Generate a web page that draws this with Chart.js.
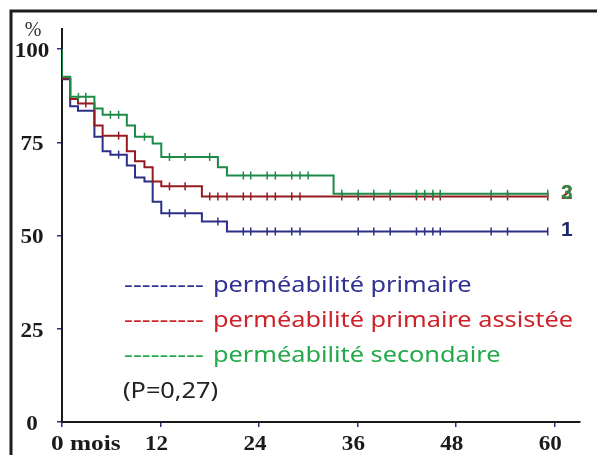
<!DOCTYPE html>
<html>
<head>
<meta charset="utf-8">
<title>Perméabilité</title>
<script src="https://cdn.jsdelivr.net/npm/chart.js@4.4.1/dist/chart.umd.min.js"></script>
<style>
  html, body { margin: 0; padding: 0; background: #fff; }
</style>
</head>
<body>
<canvas id="kmChart" width="597" height="455"></canvas>
<script>
// axes (mois / %)
const xTicks = [0, 12, 24, 36, 48, 60];
const xTickLabels = ['0 mois', '12', '24', '36', '48', '60'];
const yTicks = [0, 25, 50, 75, 100];

// courbes de Kaplan-Meier : temps des événements (mois) et survie (%)
const primaireTimes = [0, 1.0, 1.95, 3.95, 4.95, 5.9, 7.9, 8.9, 10.05, 11.05, 12.1, 17.05, 20.1];
const primaireValues = [91.9, 84.7, 83.5, 76.5, 72.6, 71.7, 68.8, 65.6, 64.5, 59.1, 56.0, 53.8, 51.1];
const primaireCensored = [6.9, 13.1, 15.0, 19.0, 22.1, 23.0, 25.0, 26.0, 28.0, 29.0, 36.1, 38.0, 40.0, 43.2, 44.2, 45.2, 46.1, 52.3, 54.3, 59.2];

const assisteeTimes = [0, 1.0, 1.95, 3.95, 4.95, 7.9, 8.9, 10.05, 11.05, 12.1, 17.05];
const assisteeValues = [92.2, 86.6, 85.4, 79.5, 76.8, 72.6, 69.9, 68.3, 64.5, 63.2, 60.5];
const assisteeCensored = [2.9, 6.9, 13.1, 15.0, 18.0, 19.0, 20.1, 22.1, 23.0, 25.0, 26.0, 28.0, 29.0, 34.1, 36.1, 38.0, 40.0, 43.2, 44.2, 45.2, 46.1, 52.3, 54.3, 59.2];

const secondaireTimes = [0, 1.0, 3.95, 4.95, 7.9, 8.9, 11.05, 12.1, 19.0, 20.1, 33.1];
const secondaireValues = [92.6, 87.2, 84.1, 82.4, 79.5, 76.5, 74.7, 71.1, 68.3, 66.1, 61.2];
const secondaireCensored = [2.0, 2.9, 5.9, 6.9, 10.05, 13.1, 15.0, 18.0, 22.1, 23.0, 25.0, 26.0, 28.0, 29.0, 30.0, 34.1, 36.1, 38.0, 40.0, 43.2, 44.2, 45.2, 46.1, 52.3, 54.3, 59.2];

const followUpEnd = 59.2;

const legendLabels = ['perméabilité primaire', 'perméabilité primaire assistée', 'perméabilité secondaire'];
const pValueLabel = '(P=0,27)';

const blueLine = '#2c2f86', redLine = '#961b1f', greenLine = '#1d8a48';
const blueText = '#2e3192', redText = '#cc2229', greenText = '#23a94a';

function stepPoints(times, values) {
    const pts = [{ x: 0, y: 100 }];
    times.forEach(function (t, i) { pts.push({ x: t, y: values[i] }); });
    pts.push({ x: followUpEnd, y: values[values.length - 1] });
    return pts;
}

function survivalAt(times, values, t) {
    let s = 100;
    times.forEach(function (ti, i) { if (ti <= t) s = values[i]; });
    return s;
}

function censorPoints(times, values, censored) {
    return censored.map(function (t) { return { x: t, y: survivalAt(times, values, t) }; });
}

function curve(points, color, order) {
    return { data: points, showLine: true, stepped: true, borderColor: color, borderWidth: 2, pointRadius: 0, order: order };
}

function ticks(points, color, order) {
    return { data: points, showLine: false, pointStyle: 'line', rotation: 90, pointRadius: 4, borderWidth: 1.5, borderColor: color, order: order };
}

function stretchText(ctx, text, x, y, sx, align) {
    ctx.save();
    ctx.translate(x, y);
    ctx.scale(sx, 1);
    ctx.textAlign = align;
    ctx.fillText(text, 0, 0);
    ctx.restore();
}

const annotations = {
    id: 'annotations',
    beforeDraw(chart) {
        const ctx = chart.ctx;
        ctx.save();
        ctx.strokeStyle = '#1c1c1c';
        ctx.lineWidth = 3;
        ctx.beginPath();
        ctx.moveTo(11, 460);
        ctx.lineTo(11, 11);
        ctx.lineTo(600, 11);
        ctx.stroke();
        ctx.restore();
    },
    afterDraw(chart) {
        const ctx = chart.ctx;
        const xs = chart.scales.x, ys = chart.scales.y;
        ctx.save();
        ctx.fillStyle = '#1a1a1a';
        ctx.textBaseline = 'middle';

        ctx.font = 'bold 21px "Liberation Serif"';
        yTicks.forEach(function (v) {
            stretchText(ctx, String(v), 32, ys.getPixelForValue(v) + 2.5, 1.1, 'center');
        });

        ctx.font = 'bold 22px "Liberation Serif"';
        xTicks.forEach(function (v, i) {
            const px = xs.getPixelForValue(v);
            if (i === 0) stretchText(ctx, xTickLabels[i], px - 11, 444.5, 1.15, 'left');
            else stretchText(ctx, xTickLabels[i], px - 4, 444.5, 1.05, 'center');
        });

        ctx.font = '20px "Liberation Serif"';
        ctx.fillStyle = '#333';
        stretchText(ctx, '%', 33, 31, 1, 'center');

        // numéros en bout de courbe
        const endX = xs.getPixelForValue(followUpEnd) + 19;
        ctx.font = 'bold 21px "Liberation Sans"';
        ctx.fillStyle = '#1f2a6e';
        stretchText(ctx, '1', endX, ys.getPixelForValue(primaireValues[primaireValues.length - 1]) - 1, 1, 'center');
        ctx.fillStyle = '#a52a2a';
        stretchText(ctx, '2', endX, ys.getPixelForValue(secondaireValues[secondaireValues.length - 1]) - 1, 1, 'center');
        ctx.fillStyle = '#2e8b45';
        stretchText(ctx, '3', endX, ys.getPixelForValue(secondaireValues[secondaireValues.length - 1]) - 1, 1, 'center');

        // légende
        ctx.textBaseline = 'alphabetic';
        ctx.font = '22px "Noto Sans"';
        const legendColors = [blueText, redText, greenText];
        const dashes = '---------';
        legendLabels.forEach(function (label, i) {
            const base = 292.3 + i * 34.6;
            ctx.fillStyle = legendColors[i];
            const dashScale = 80 / ctx.measureText(dashes).width;
            stretchText(ctx, dashes, 124, base, dashScale, 'left');
            stretchText(ctx, label, 213, base, 1.15, 'left');
        });
        ctx.fillStyle = '#222';
        stretchText(ctx, pValueLabel, 123, 398.3, 1.15, 'left');
        ctx.restore();
    }
};

new Chart(document.getElementById('kmChart'), {
    type: 'scatter',
    data: {
        datasets: [
            ticks(censorPoints(secondaireTimes, secondaireValues, secondaireCensored), greenLine, 0),
            curve(stepPoints(secondaireTimes, secondaireValues), greenLine, 1),
            ticks(censorPoints(assisteeTimes, assisteeValues, assisteeCensored), redLine, 2),
            curve(stepPoints(assisteeTimes, assisteeValues), redLine, 3),
            ticks(censorPoints(primaireTimes, primaireValues, primaireCensored), blueLine, 4),
            curve(stepPoints(primaireTimes, primaireValues), blueLine, 5)
        ]
    },
    options: {
        responsive: false,
        animation: false,
        events: [],
        layout: { padding: { left: 57, right: 17, top: 29, bottom: 28 } },
        plugins: { legend: { display: false }, tooltip: { enabled: false } },
        scales: {
            x: {
                type: 'linear', min: 0, max: 63.13,
                afterBuildTicks: function (s) { s.ticks = xTicks.map(function (v) { return { value: v }; }); },
                ticks: { display: false },
                grid: { drawOnChartArea: false, color: blueLine, tickLength: 5, lineWidth: 1.5 },
                border: { color: '#1a1a1a', width: 2 }
            },
            y: {
                type: 'linear', min: 0, max: 105.4,
                afterBuildTicks: function (s) { s.ticks = yTicks.map(function (v) { return { value: v }; }); },
                ticks: { display: false },
                grid: { drawOnChartArea: false, color: blueLine, tickLength: 5, lineWidth: 1.5 },
                border: { color: '#1a1a1a', width: 2 }
            }
        }
    },
    plugins: [annotations]
});
</script>
</body>
</html>
